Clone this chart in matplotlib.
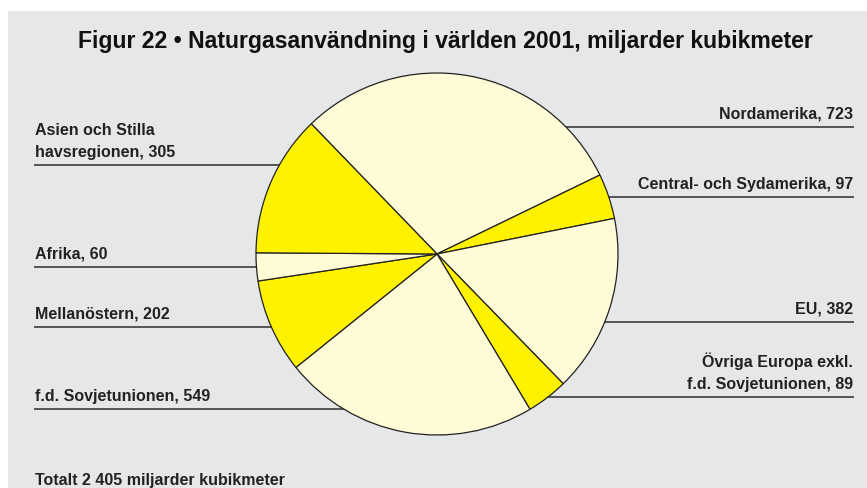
import matplotlib.pyplot as plt
from matplotlib.patches import Rectangle

plt.rcParams['font.family'] = ['Liberation Sans Narrow', 'Liberation Sans', 'DejaVu Sans']

regions = ['Nordamerika', 'Central- och Sydamerika', 'EU',
           'Övriga Europa exkl.\nf.d. Sovjetunionen', 'f.d. Sovjetunionen',
           'Mellanöstern', 'Afrika', 'Asien och Stilla\nhavsregionen']
values = [723, 97, 382, 89, 549, 202, 60, 305]
light = '#fffbd6'
yellow = '#fff200'
colors = [light, yellow, light, yellow, light, yellow, light, yellow]

# label anchor (pixel x, baseline y of leader line) and side
label_pos = [(853, 128, 'r'), (853, 198, 'r'), (853, 323, 'r'), (853, 398, 'r'),
             (35, 410, 'l'), (35, 328, 'l'), (35, 268, 'l'), (35, 166, 'l')]

W, H = 867, 489
fig = plt.figure(figsize=(W / 100, H / 100), dpi=100, facecolor='white')
ax = fig.add_axes([0, 0, 1, 1])
ax.set_xlim(0, W)
ax.set_ylim(0, H)
ax.axis('off')

ax.add_patch(Rectangle((8, 0), W - 8, H - 12, facecolor='#e6e7e9',
                       edgecolor='none', zorder=0))

cx, cy, r = 437, H - 255, 181

# leader lines sit behind the pie
for (x, y, side) in label_pos:
    ax.plot([x, cx], [H - y, H - y], color='#555555', lw=1.4, zorder=1)

ax.pie(values, colors=colors, startangle=134, counterclock=False,
       center=(cx, cy), radius=r, frame=True,
       wedgeprops=dict(edgecolor='#222222', linewidth=0.9, zorder=2))
ax.set_xlim(0, W)
ax.set_ylim(0, H)
ax.axis('off')

for name, v, (x, y, side) in zip(regions, values, label_pos):
    ha = 'right' if side == 'r' else 'left'
    ax.text(x, H - y + 6, f'{name}, {v}', ha=ha, va='bottom',
            fontsize=11.5, fontweight='bold', color='#222222',
            linespacing=1.6, zorder=3)

ax.text(445, H - 42, 'Figur 22 • Naturgasanvändning i världen 2001, miljarder kubikmeter',
        ha='center', va='center', fontsize=16.6, fontweight='bold', color='#111111')
ax.text(35, H - 481, 'Totalt 2 405 miljarder kubikmeter', ha='left', va='center',
        fontsize=11.5, fontweight='bold', color='#222222')

fig.savefig('out.png', dpi=100, facecolor='white')
